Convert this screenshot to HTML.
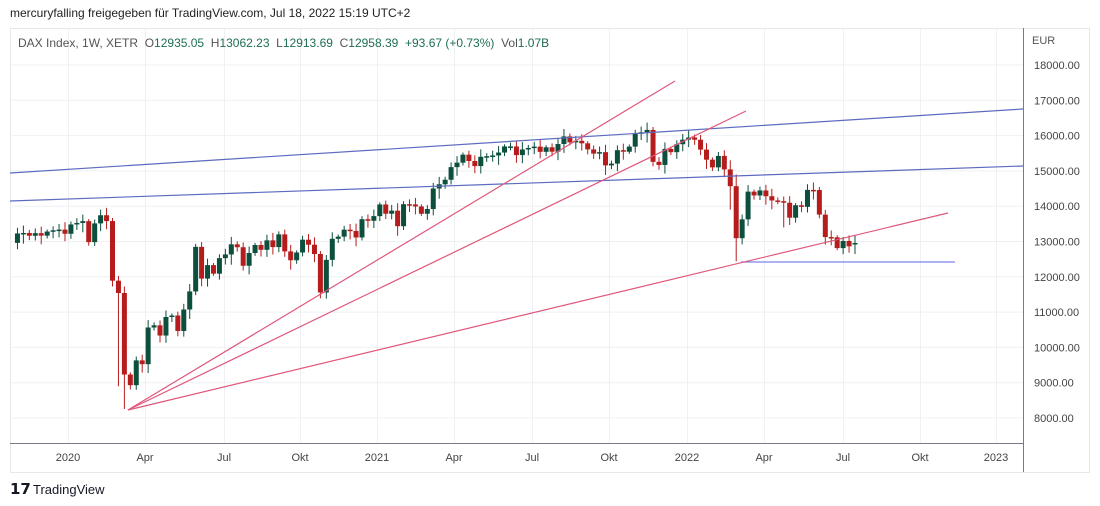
<!DOCTYPE html>
<html><head><meta charset="utf-8"><style>
html,body{margin:0;padding:0;background:#fff;width:1100px;height:506px;overflow:hidden;font-family:"Liberation Sans",sans-serif}
text{white-space:pre}
</style></head><body>
<svg id="s" width="1100" height="506" xmlns="http://www.w3.org/2000/svg" font-family="Liberation Sans, sans-serif" xml:space="preserve">
<text x="10" y="17" font-size="12" fill="#222">mercuryfalling freigegeben für TradingView.com, Jul 18, 2022 15:19 UTC+2</text>
<rect x="10.5" y="28.5" width="1079" height="444" fill="#fff" stroke="#e6e8ec"/>
<g id="grid"></g>
<line x1="10" y1="443.5" x2="1023" y2="443.5" stroke="#787b86" stroke-width="1"/>
<line x1="1023.5" y1="28" x2="1023.5" y2="472" stroke="#787b86" stroke-width="1"/>
<g id="c"></g>
<g stroke-width="1.2" fill="none">
<line x1="10" y1="173" x2="1023" y2="109" stroke="#5c6bc0"/>
<line x1="10" y1="201" x2="1023" y2="166" stroke="#5c6bc0"/>
<line x1="741" y1="262" x2="955" y2="262" stroke="#7b83eb"/>
<line x1="128" y1="410" x2="675" y2="81" stroke="#e0577a"/>
<line x1="128" y1="410" x2="746" y2="111" stroke="#e0577a"/>
<line x1="128" y1="410" x2="948" y2="213" stroke="#e0577a"/>
</g>
<g id="ax" font-size="11" fill="#444"></g>
<text x="1032" y="44" font-size="11" fill="#555">EUR</text>
<text x="18" y="47" font-size="12" fill="#555">DAX Index, 1W, XETR  O<tspan fill="#1e6e55">12935.05</tspan>  H<tspan fill="#1e6e55">13062.23</tspan>  L<tspan fill="#1e6e55">12913.69</tspan>  C<tspan fill="#1e6e55">12958.39</tspan>  <tspan fill="#1e6e55">+93.67 (+0.73%)</tspan>  Vol<tspan fill="#1e6e55">1.07B</tspan></text>
<text x="10" y="494" font-size="15" font-weight="bold" fill="#131722">𝟭𝟳</text>
<text x="33" y="494" font-size="13" fill="#131722">TradingView</text>
</svg>
<script>
var NS="http://www.w3.org/2000/svg";
function el(p,t,a){var e=document.createElementNS(NS,t);for(var k in a)e.setAttribute(k,a[k]);document.getElementById(p).appendChild(e);return e;}
function Y(p){return 65+(18000-p)*0.0353;}
var vx=[68,145,224,300,377,454,532,609,687,764,843,920,996];
var lb=["2020","Apr","Jul","Okt","2021","Apr","Jul","Okt","2022","Apr","Jul","Okt","2023"];
vx.forEach(function(x,i){el("grid","line",{x1:x+.5,y1:29,x2:x+.5,y2:443,stroke:"#eef0f3"});
var t=el("ax","text",{x:x,y:461,"text-anchor":"middle"});t.textContent=lb[i];});
for(var p=8000;p<=18000;p+=1000){var y=Y(p);el("grid","line",{x1:10,y1:y,x2:1023,y2:y,stroke:"#eef0f3"});
var t=el("ax","text",{x:1034,y:y+4});t.textContent=p+".00";}
var C=[12895,12961,13228,13242,13163,13236,13166,13282,13318,13337,13219,13483,13526,13577,12982,13513,13744,13579,11890,11541,9232,8929,9632,9525,10564,10626,10336,10861,10904,10465,11074,11586,12848,11949,12331,12089,12528,12633,12920,12838,12313,12674,12901,12765,13033,12842,13202,12720,12469,12689,13051,12909,12646,11556,12480,13077,13137,13335,13298,13114,13631,13587,13719,14049,13787,13874,13433,14057,14050,13993,13786,13920,14502,14621,14749,15107,15234,15460,15280,15136,15400,15416,15438,15520,15693,15693,15448,15607,15650,15688,15540,15669,15544,15761,15977,15808,15852,15781,15609,15490,15531,15156,15206,15587,15543,15688,16054,16094,16160,15257,15169,15623,15531,15756,15885,15947,15883,15603,15318,15100,15425,15042,14567,13094,13628,14413,14305,14446,14283,14163,14142,14098,13674,14027,13982,14462,14460,13762,13126,13118,12813,13015,12864,12958];
var ext={"20":[8256,9900],"19":[8900,11900],"123":[12439,14900],"122":[13900,15300],"145":[12400,13100],"144":[12390,13300],"131":[13400,14200]};
var n=C.length;
for(var i=1;i<n;i++){var x=855-(n-1-i)*5.94+(i<=123? (i-123)*0.0:0);
if(i<=20)x+=0;
var o=C[i-1];var c=C[i];if(i==n-1)o=12935;
var hi=Math.max(o,c),lo=Math.min(o,c);var d=60+((i*37)%7)*25;var h=hi+d,l=lo-d-((i*53)%5)*20;
if(ext[i]){l=ext[i][0];h=Math.max(h,ext[i][1]);}
if(x<12)continue;
var col=c>=o?"#0b4f3c":"#b71c1c";
el("c","line",{x1:x,y1:Y(h),x2:x,y2:Y(l),stroke:col,"stroke-width":1});
var yt=Y(hi),hb=Math.max(1.5,Y(lo)-yt);
el("c","rect",{x:x-2.5,y:yt,width:5,height:hb,fill:col});}
</script>
</body></html>
